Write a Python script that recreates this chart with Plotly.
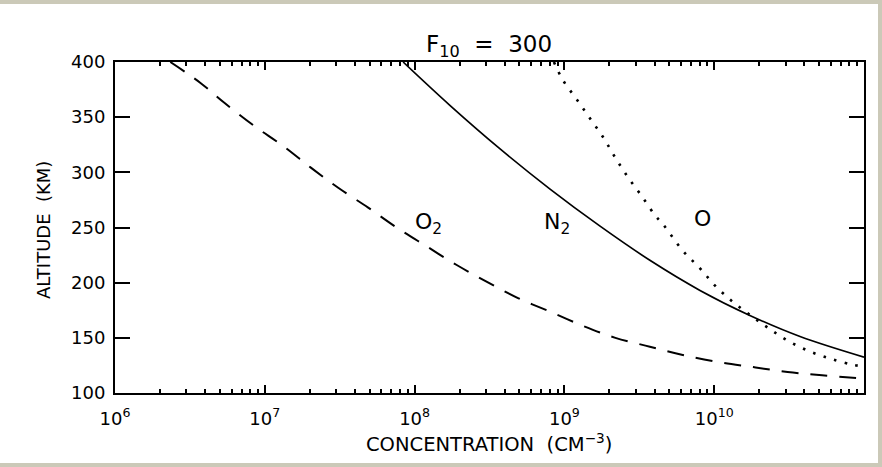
import math
import plotly.graph_objects as go

# ---- data ----
o2_conc = [2.34e6, 3.72e6, 5.37e6, 8.51e6, 1.32e7, 2.04e7, 3.09e7, 4.90e7, 7.59e7, 1.20e8,
           1.91e8, 3.02e8, 4.90e8, 7.94e8, 1.32e9, 2.19e9, 3.72e9, 6.17e9, 1.07e10, 1.82e10,
           3.09e10, 5.25e10, 1.0e11]
o2_alt = [400, 381, 363, 342, 324, 304, 286, 268, 250, 233,
          216, 201, 186, 174, 161, 150, 142, 134.5, 128, 123.5,
          119, 116, 113]

n2_conc = [8.38e7, 1.72e8, 3.72e8, 8.02e8, 1.73e9, 3.72e9, 8.04e9, 1.73e10, 3.74e10, 1.0e11]
n2_alt = [400, 360.7, 321.2, 284.8, 251.2, 220.3, 193.0, 170.3, 151.2, 132.5]

o_conc = [8.51e8, 9.77e8, 1.21e9, 1.48e9, 1.81e9, 2.18e9, 2.66e9, 3.30e9, 4.03e9, 4.57e9,
          6.17e9, 8.04e9, 1.01e10, 1.32e10, 1.74e10, 2.29e10, 3.09e10, 4.37e10, 6.17e10,
          8.51e10, 1.0e11]
o_alt = [400, 383.6, 366, 349, 332, 313.6, 295.5, 278, 261, 252.7,
         229, 213, 197.5, 183, 170.5, 159, 147.5, 137.5, 130.5, 125.5, 124]

x_tickvals = [1e6, 1e7, 1e8, 1e9, 1e10]
x_ticktext = ["10<sup>6</sup>", "10<sup>7</sup>", "10<sup>8</sup>", "10<sup>9</sup>", "10<sup>10</sup>"]
x_minor = [m * 10 ** e for e in range(6, 11) for m in range(2, 10)]
y_tickvals = [100, 150, 200, 250, 300, 350, 400]

labels = [("O<sub>2</sub>", 1.23e8, 253.5), ("N<sub>2</sub>", 8.9e8, 253.5), ("O", 8.4e9, 258)]

FONT = "DejaVu Sans"

fig = go.Figure()
fig.add_trace(go.Scatter(x=o2_conc, y=o2_alt, mode="lines", line_shape="spline",
                         line=dict(color="black", width=2, dash="17px,12px"), showlegend=False))
fig.add_trace(go.Scatter(x=n2_conc, y=n2_alt, mode="lines", line_shape="spline",
                         line=dict(color="black", width=1.7), showlegend=False))
fig.add_trace(go.Scatter(x=o_conc, y=o_alt, mode="lines", line_shape="spline",
                         line=dict(color="black", width=2.6, dash="2.5px,8.5px"), showlegend=False))

L, R, T, B = 115, 18, 62, 74
W, H = 882, 467
pw, ph = W - L - R, H - T - B

def px2paper_x(px):
    return (px - L) / pw

def px2paper_y(py):
    return (H - B - py) / ph

fig.update_layout(
    width=W, height=H,
    margin=dict(l=L, r=R, t=T, b=B, pad=0),
    paper_bgcolor="#cbc9b8",
    plot_bgcolor="white",
    font=dict(family=FONT, color="black", size=18),
    shapes=[dict(type="rect", xref="paper", yref="paper", layer="below",
                 x0=px2paper_x(0), x1=px2paper_x(878), y0=px2paper_y(463), y1=px2paper_y(4),
                 fillcolor="white", line=dict(width=0))],
    xaxis=dict(type="log", range=[6, 11], tickvals=x_tickvals, ticktext=x_ticktext,
               ticks="inside", ticklen=8, tickwidth=1.5, tickcolor="black",
               showline=True, linecolor="black", linewidth=2, mirror="allticks",
               showgrid=False, zeroline=False,
               minor=dict(tickvals=x_minor, ticks="inside", ticklen=4, tickwidth=1.5,
                          tickcolor="black", showgrid=False),
               tickfont=dict(size=18, family=FONT), ticklabelstandoff=8),
    yaxis=dict(range=[100, 400], tickvals=y_tickvals,
               ticks="inside", ticklen=15, tickwidth=1.5, tickcolor="black",
               showline=True, linecolor="black", linewidth=2, mirror="ticks",
               showgrid=False, zeroline=False,
               tickfont=dict(size=18, family=FONT), ticklabelstandoff=4),
    title=dict(text="F<sub>10</sub>  =  300", x=489 / W, xanchor="center",
               y=1 - 44 / H, yanchor="middle", font=dict(size=23, family=FONT)),
)

for txt, xv, yv in labels:
    fig.add_annotation(x=math.log10(xv), y=yv, xref="x", yref="y", text=txt,
                       showarrow=False, font=dict(size=22, family=FONT),
                       xanchor="center", yanchor="middle")

fig.add_annotation(text="CONCENTRATION  (CM<sup>\u22123</sup>)", xref="paper", yref="paper",
                   x=px2paper_x(489), y=px2paper_y(443), showarrow=False,
                   font=dict(size=19.5, family=FONT), xanchor="center", yanchor="middle")
fig.add_annotation(text="ALTITUDE  (KM)", xref="paper", yref="paper",
                   x=px2paper_x(43), y=px2paper_y(230), showarrow=False, textangle=-90,
                   font=dict(size=18, family=FONT), xanchor="center", yanchor="middle")

fig.write_html("out.html")
